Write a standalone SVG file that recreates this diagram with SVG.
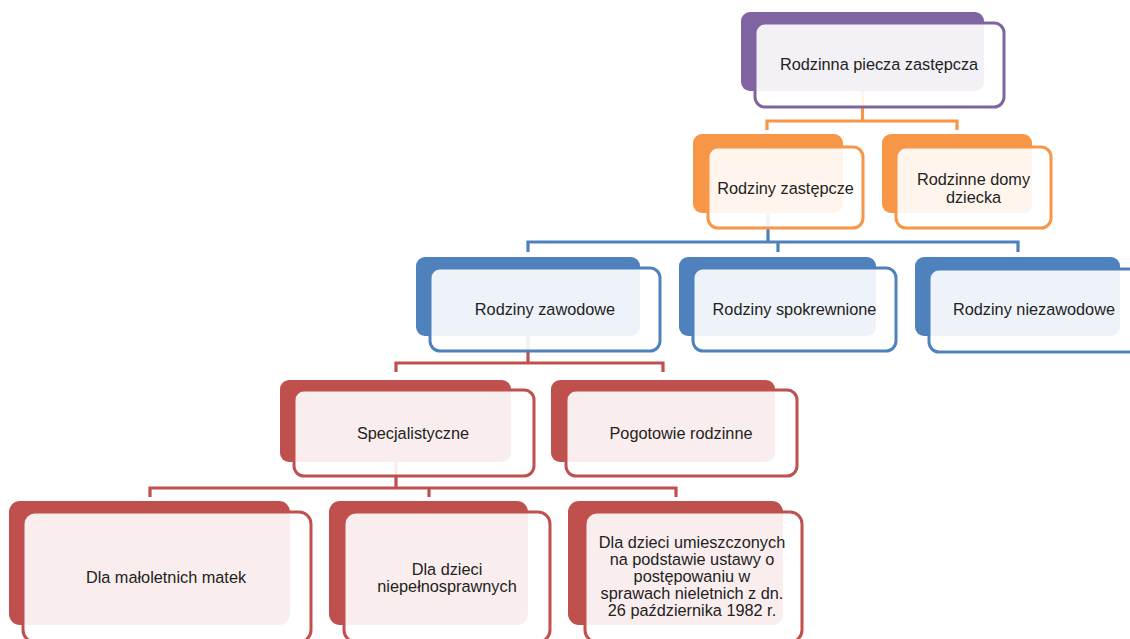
<svg xmlns="http://www.w3.org/2000/svg" width="1130" height="639" viewBox="0 0 1130 639">
<style>
.bg{fill:#ffffff}
.conn{fill:none;stroke-width:3.2;stroke-linejoin:miter}
.back{stroke:none}
.front{fill:#ffffff;fill-opacity:0.9;stroke-width:3}
.t{font-family:"Liberation Sans",Arial,sans-serif;font-size:16.3px;fill:#222222;text-anchor:middle}
.purple .back{fill:#8064a2}.purple .front{stroke:#8064a2}
.orange .back{fill:#f79646}.orange .front{stroke:#f79646}
.blue .back{fill:#4f81bd}.blue .front{stroke:#4f81bd}
.red .back{fill:#c0504d}.red .front{stroke:#c0504d}
</style>
<rect class="bg" x="0" y="0" width="1130" height="639"/>
<g id="connectors">
<path class="conn" stroke="#f79646" d="M862.5,91 V121 M767,130 V121 H957 V130"/>
<path class="conn" stroke="#4f81bd" d="M768,213 V242 M528,252 V242 H1018 V252 M778,242 V252"/>
<path class="conn" stroke="#c0504d" d="M528,336 V363 M396,372 V363 H663 V372"/>
<path class="conn" stroke="#c0504d" d="M396,462 V488 M150,497 V488 H676 V497 M429,488 V497"/>
</g>
<g id="n-rodzinna" class="purple">
<rect class="back" x="741" y="12" width="243" height="79" rx="9"/>
<rect class="front" x="755" y="23" width="249" height="84" rx="10"/>
<text class="t" x="879" y="70">Rodzinna piecza zastępcza</text>
</g>
<g id="n-zastepcze" class="orange">
<rect class="back" x="693" y="134" width="150" height="79" rx="9"/>
<rect class="front" x="708" y="147" width="155" height="81" rx="10"/>
<text class="t" x="785.5" y="194">Rodziny zastępcze</text>
</g>
<g id="n-domy" class="orange">
<rect class="back" x="882" y="134" width="150" height="79" rx="9"/>
<rect class="front" x="896" y="147" width="155" height="81" rx="10"/>
<text class="t" x="973.5" y="185">Rodzinne domy</text>
<text class="t" x="973.5" y="203">dziecka</text>
</g>
<g id="n-zawodowe" class="blue">
<rect class="back" x="416" y="257" width="224" height="79" rx="9"/>
<rect class="front" x="430" y="268" width="230" height="83" rx="10"/>
<text class="t" x="545" y="315">Rodziny zawodowe</text>
</g>
<g id="n-spokrewnione" class="blue">
<rect class="back" x="679" y="257" width="197" height="79" rx="9"/>
<rect class="front" x="693" y="268" width="203" height="83" rx="10"/>
<text class="t" x="794.5" y="315">Rodziny spokrewnione</text>
</g>
<g id="n-niezawodowe" class="blue">
<rect class="back" x="915" y="257" width="205" height="79" rx="9"/>
<rect class="front" x="929" y="269" width="212" height="83" rx="10"/>
<text class="t" x="1034" y="315">Rodziny niezawodowe</text>
</g>
<g id="n-specjalistyczne" class="red">
<rect class="back" x="280" y="380" width="231" height="82" rx="9"/>
<rect class="front" x="294" y="390" width="240" height="86" rx="10"/>
<text class="t" x="413" y="439">Specjalistyczne</text>
</g>
<g id="n-pogotowie" class="red">
<rect class="back" x="551" y="380" width="224" height="82" rx="9"/>
<rect class="front" x="566" y="390" width="231" height="86" rx="10"/>
<text class="t" x="681" y="439">Pogotowie rodzinne</text>
</g>
<g id="n-matek" class="red">
<rect class="back" x="9" y="501" width="281" height="124" rx="11"/>
<rect class="front" x="23" y="512" width="288" height="130" rx="12"/>
<text class="t" x="166" y="583">Dla małoletnich matek</text>
</g>
<g id="n-niepelnosprawnych" class="red">
<rect class="back" x="329" y="501" width="199" height="124" rx="11"/>
<rect class="front" x="344" y="512" width="206" height="130" rx="12"/>
<text class="t" x="447" y="575">Dla dzieci</text>
<text class="t" x="447" y="592">niepełnosprawnych</text>
</g>
<g id="n-nieletnich" class="red">
<rect class="back" x="568" y="501" width="215" height="124" rx="11"/>
<rect class="front" x="585" y="512" width="217" height="130" rx="12"/>
<text class="t" x="692" y="548">Dla dzieci umieszczonych</text>
<text class="t" x="692" y="565">na podstawie ustawy o</text>
<text class="t" x="692" y="582">postępowaniu w</text>
<text class="t" x="692" y="599">sprawach nieletnich z dn.</text>
<text class="t" x="692" y="616">26 października 1982 r.</text>
</g>
</svg>
